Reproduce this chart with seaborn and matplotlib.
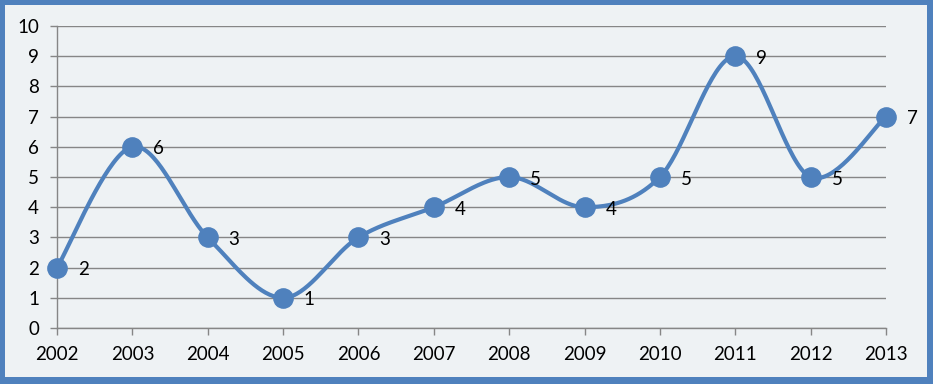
import numpy as np
import pandas as pd
import matplotlib
matplotlib.use('Agg')
import matplotlib.pyplot as plt
from matplotlib.patches import Rectangle
import seaborn as sns

years = [2002, 2003, 2004, 2005, 2006, 2007, 2008, 2009, 2010, 2011, 2012, 2013]
values = [2, 6, 3, 1, 3, 4, 5, 4, 5, 9, 5, 7]

blue = '#4F81BD'
grey = '#868686'
bg = '#EEF2F4'


# smooth line like excel (catmull-rom through the points)
def smooth(xs, ys, n=40):
    p = np.column_stack([xs, ys]).astype(float)
    p = np.vstack([p[0], p, p[-1]])
    out = []
    for i in range(1, len(p) - 2):
        p0, p1, p2, p3 = p[i - 1], p[i], p[i + 1], p[i + 2]
        t = np.linspace(0, 1, n)[:, None]
        seg = 0.5 * ((2 * p1) + (-p0 + p2) * t + (2 * p0 - 5 * p1 + 4 * p2 - p3) * t ** 2
                     + (-p0 + 3 * p1 - 3 * p2 + p3) * t ** 3)
        out.append(seg)
    out = np.vstack(out)
    return out[:, 0], out[:, 1]


sx, sy = smooth(years, values)
curve = pd.DataFrame({'x': sx, 'y': sy})
pts = pd.DataFrame({'year': years, 'value': values})

sns.set_style('white')
plt.rcParams['font.family'] = ['Lato', 'DejaVu Sans']

fig = plt.figure(figsize=(9.33, 3.84), dpi=100)
fig.patch.set_facecolor(blue)
fig.patches.append(Rectangle((5 / 933, 7 / 384), 922 / 933, 372 / 384, transform=fig.transFigure,
                             facecolor=bg, edgecolor='none', zorder=-10))

ax = fig.add_axes([57 / 933, 56 / 384, 829 / 933, 302 / 384])
ax.set_facecolor('none')

sns.lineplot(data=curve, x='x', y='y', sort=False, estimator=None, color=blue, lw=3, ax=ax, zorder=3)
sns.scatterplot(data=pts, x='year', y='value', s=190, color=blue, edgecolor=blue, ax=ax,
                zorder=4, clip_on=False)

for x, v in zip(years, values):
    ax.annotate(str(v), (x, v), xytext=(15, -1.5), textcoords='offset points',
                ha='left', va='center', fontsize=13.5, color='black')

ax.set_xlim(2002, 2013)
ax.set_ylim(0, 10)
ax.set_xticks(years)
ax.set_xticklabels([str(y) for y in years])
ax.set_yticks(range(0, 11))
ax.set_xlabel('')
ax.set_ylabel('')
ax.yaxis.grid(True, color=grey, lw=1)
ax.set_axisbelow(True)
for s in ['top', 'right']:
    ax.spines[s].set_visible(False)
for s in ['left', 'bottom']:
    ax.spines[s].set_color(grey)
    ax.spines[s].set_linewidth(1)
ax.tick_params(axis='both', which='both', direction='out', length=5, width=1, color=grey,
               labelsize=13.5, labelcolor='black')
ax.tick_params(axis='y', pad=8, left=True)
ax.tick_params(axis='x', pad=8, bottom=True)

fig.savefig('out.png', dpi=100, facecolor=fig.get_facecolor())
